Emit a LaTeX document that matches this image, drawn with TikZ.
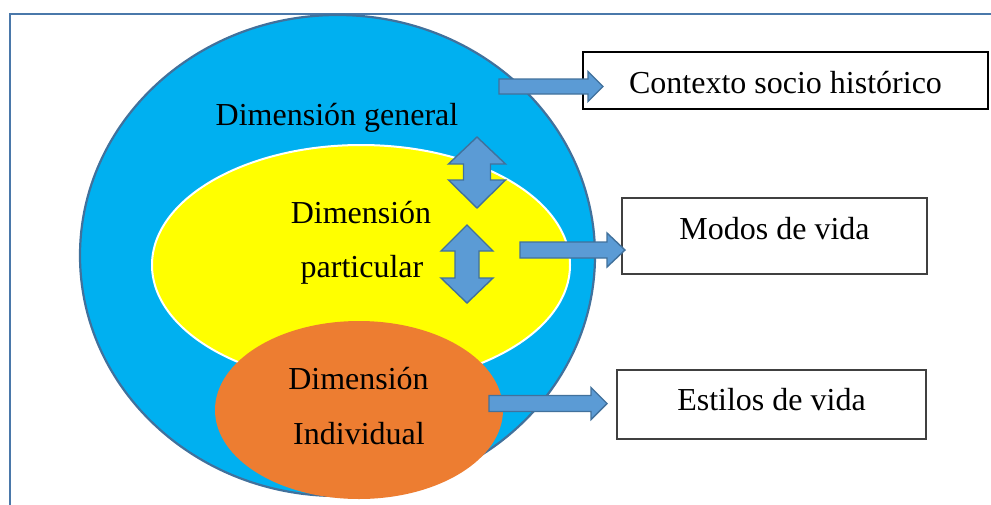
\documentclass[tikz,border=0pt]{standalone}
\usepackage{fontspec}
\setmainfont{Liberation Serif}
\usetikzlibrary{shapes.geometric}
\definecolor{frameblue}{HTML}{4A78AA}
\definecolor{outerblue}{HTML}{00B0F0}
\definecolor{outerline}{HTML}{41719C}
\definecolor{innerYellow}{HTML}{FFFF00}
\definecolor{innerOrange}{HTML}{ED7D31}
\definecolor{arrowfill}{HTML}{5B9BD5}
\definecolor{boxline}{HTML}{404040}
\tikzset{
  barrow/.style={fill=arrowfill, draw=outerline, line width=0.7pt, line join=miter},
  ell/.style={ellipse, inner sep=0pt},
  lbl/.style={anchor=base, inner sep=0pt, font=\fontsize{16pt}{19pt}\selectfont},
  txtbox/.style={draw, rectangle, inner sep=0pt, font=\fontsize{16pt}{19pt}\selectfont},
}
\newcommand\blockR[6]{% x0, xtip, xhead, ymid, shafthalf, headhalf
  \draw[barrow] (#1,#4-#5) -- (#3,#4-#5) -- (#3,#4-#6) -- (#2,#4) -- (#3,#4+#6) -- (#3,#4+#5) -- (#1,#4+#5) -- cycle;}
\newcommand\blockUD[7]{% cx, ytop, ybot, ybaseTop, ybaseBot, shafthalf, headhalf
  \draw[barrow] (#1,#2) -- (#1+#7,#4) -- (#1+#6,#4) -- (#1+#6,#5) -- (#1+#7,#5) -- (#1,#3) -- (#1-#7,#5) -- (#1-#6,#5) -- (#1-#6,#4) -- (#1-#7,#4) -- cycle;}
\begin{document}
\begin{tikzpicture}[x=0.5pt, y=-0.5pt]
\clip (0,0) rectangle (991,504);
\fill[white] (0,0) rectangle (991,504);
% frame
\draw[frameblue, line width=1.25pt] (10,14) rectangle (1010,530);
% ellipses
\node[ell, fill=outerblue, draw=outerline, line width=1.1pt, minimum width=257.5pt, minimum height=240.5pt] (general) at (337.5,255.5) {};
\node[ell, fill=innerYellow, draw=white, line width=1pt, minimum width=209pt, minimum height=120pt] (particular) at (361,265) {};
\node[ell, fill=innerOrange, minimum width=144pt, minimum height=89pt] (individual) at (359,410) {};
% labels
\node[lbl] (tg) at (337,125) {Dimensión general};
\node[lbl] (tp1) at (361,223) {Dimensión};
\node[lbl] (tp2) at (362,277) {particular};
\node[lbl] (ti1) at (358.5,389) {Dimensión};
\node[lbl] (ti2) at (359,444) {Individual};
% boxes
\node[txtbox, line width=1.25pt, draw=black, minimum width=202.5pt, minimum height=28.5pt, text height=12.5pt, text depth=0pt] (ctx) at (785.5,80.5) {Contexto socio histórico};
\node[txtbox, line width=0.7pt, draw=boxline, minimum width=152.5pt, minimum height=38pt, text height=8pt, text depth=5pt] (modos) at (774.5,236) {Modos de vida};
\node[txtbox, line width=0.7pt, draw=boxline, minimum width=154.5pt, minimum height=34.5pt, text height=9pt, text depth=3.5pt] (estilos) at (771.5,404.5) {Estilos de vida};
% right block arrows
\blockR{499}{603}{588}{86.5}{7.5}{15}
\blockR{520}{625}{607}{250}{8}{17}
\blockR{489}{607}{591}{403.5}{8}{16}
% up-down block arrows
\blockUD{477}{137}{208}{164}{180}{13.5}{28.5}
\blockUD{467}{225}{303}{251}{278}{12}{26}
\end{tikzpicture}
\end{document}
